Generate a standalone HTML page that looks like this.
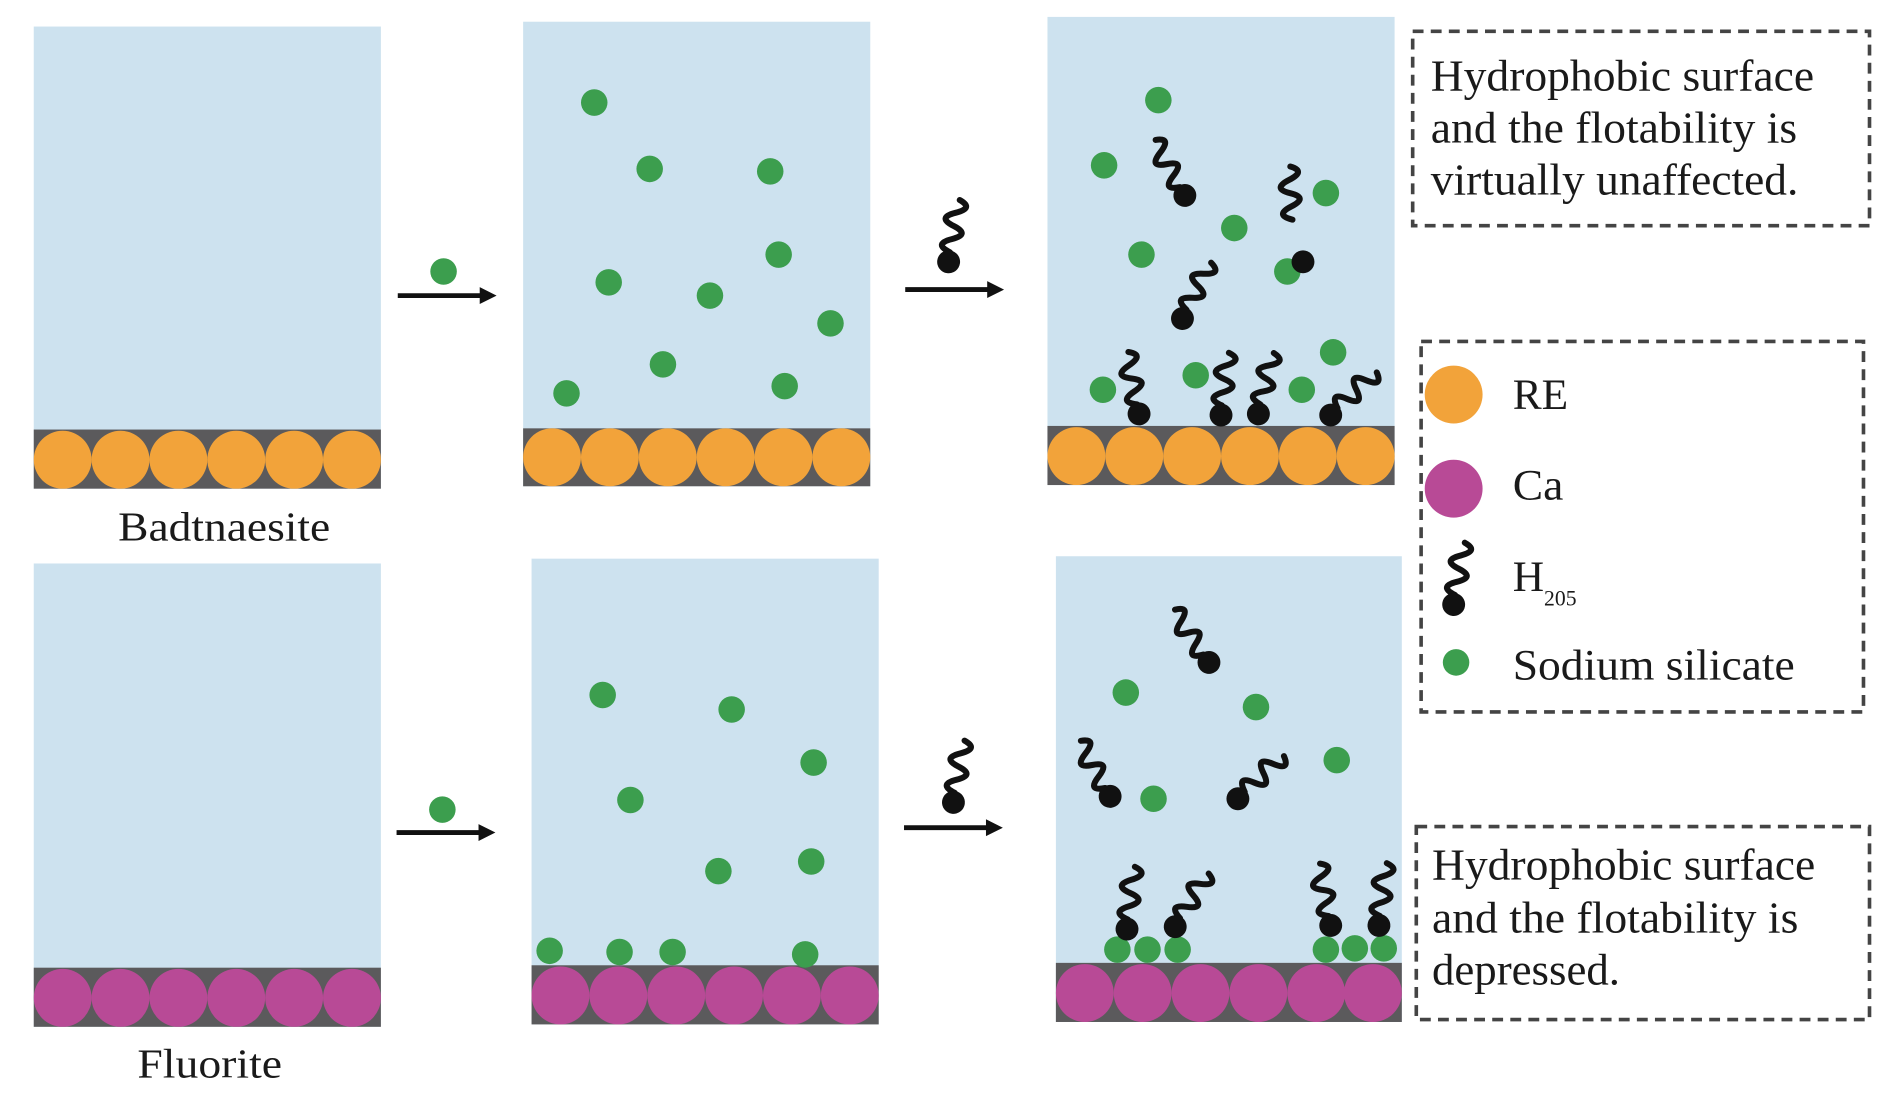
<!DOCTYPE html>
<html><head><meta charset="utf-8"><style>
html,body{margin:0;padding:0;background:#fff;}
svg{display:block;}
text{font-family:"Liberation Serif",serif;fill:#1a1a1a;}
</style></head><body>
<svg width="1890" height="1098" viewBox="0 0 1568 910" preserveAspectRatio="none" xmlns="http://www.w3.org/2000/svg">
<defs>
<g id="sq"><path d="M0,-8 Q-15,-13 0,-19 T0,-30 T0,-41 T2,-52" fill="none" stroke="#111" stroke-width="5" stroke-linecap="round"/><circle r="9.5" fill="#111"/></g>
<g id="tail"><path d="M0,-8 Q-15,-13 0,-19 T0,-30 T0,-41 T2,-52" fill="none" stroke="#111" stroke-width="5" stroke-linecap="round"/></g>
<circle id="g" r="11" fill="#3c9e4e"/>
<circle id="o" r="24" fill="#f2a33a"/>
<circle id="m" r="24" fill="#b84a96"/>
</defs>
<rect width="1568" height="910" fill="#fff"/>

<rect x="28" y="22" width="288" height="383" fill="#cde2ef"/>
<rect x="434" y="18" width="288" height="385" fill="#cde2ef"/>
<rect x="869" y="14" width="288" height="388" fill="#cde2ef"/>
<rect x="28" y="467" width="288" height="384" fill="#cde2ef"/>
<rect x="441" y="463" width="288" height="386" fill="#cde2ef"/>
<rect x="876" y="461" width="287" height="386" fill="#cde2ef"/>

<rect x="28" y="356" width="288" height="49" fill="#5b5a5c"/>
<rect x="434" y="355" width="288" height="48" fill="#5b5a5c"/>
<rect x="869" y="353" width="288" height="49" fill="#5b5a5c"/>
<rect x="28" y="802" width="288" height="49" fill="#5b5a5c"/>
<rect x="441" y="800" width="288" height="49" fill="#5b5a5c"/>
<rect x="876" y="798" width="287" height="49" fill="#5b5a5c"/>

<g>
<use href="#o" x="52" y="381"/><use href="#o" x="100" y="381"/><use href="#o" x="148" y="381"/><use href="#o" x="196" y="381"/><use href="#o" x="244" y="381"/><use href="#o" x="292" y="381"/>
<use href="#o" x="458" y="379"/><use href="#o" x="506" y="379"/><use href="#o" x="554" y="379"/><use href="#o" x="602" y="379"/><use href="#o" x="650" y="379"/><use href="#o" x="698" y="379"/>
<use href="#o" x="893" y="378"/><use href="#o" x="941" y="378"/><use href="#o" x="989" y="378"/><use href="#o" x="1037" y="378"/><use href="#o" x="1085" y="378"/><use href="#o" x="1133" y="378"/>
<use href="#m" x="52" y="827"/><use href="#m" x="100" y="827"/><use href="#m" x="148" y="827"/><use href="#m" x="196" y="827"/><use href="#m" x="244" y="827"/><use href="#m" x="292" y="827"/>
<use href="#m" x="465" y="825"/><use href="#m" x="513" y="825"/><use href="#m" x="561" y="825"/><use href="#m" x="609" y="825"/><use href="#m" x="657" y="825"/><use href="#m" x="705" y="825"/>
<use href="#m" x="900" y="823"/><use href="#m" x="948" y="823"/><use href="#m" x="996" y="823"/><use href="#m" x="1044" y="823"/><use href="#m" x="1092" y="823"/><use href="#m" x="1139" y="823"/>
</g>

<g>
<use href="#g" x="493" y="85"/><use href="#g" x="539" y="140"/><use href="#g" x="639" y="142"/><use href="#g" x="646" y="211"/><use href="#g" x="505" y="234"/><use href="#g" x="589" y="245"/><use href="#g" x="689" y="268"/><use href="#g" x="550" y="302"/><use href="#g" x="470" y="326"/><use href="#g" x="651" y="320"/>
</g>
<g>
<use href="#g" x="961" y="83"/><use href="#g" x="916" y="137"/><use href="#g" x="1100" y="160"/><use href="#g" x="1024" y="189"/><use href="#g" x="947" y="211"/><use href="#g" x="1068" y="225"/><use href="#g" x="1106" y="292"/><use href="#g" x="992" y="311"/><use href="#g" x="1080" y="323"/><use href="#g" x="915" y="323"/>
<use href="#sq" transform="translate(983,162) rotate(-30)"/>
<use href="#tail" transform="translate(1073,190) rotate(-5)"/>
<circle cx="1081" cy="217" r="9.5" fill="#111"/>
<use href="#sq" transform="translate(981,264) rotate(25)"/>
<use href="#sq" transform="translate(945,343) rotate(-12)"/>
<use href="#sq" transform="translate(1013,344) rotate(5)"/>
<use href="#sq" transform="translate(1044,343) rotate(12)"/>
<use href="#sq" transform="translate(1104,344) rotate(45)"/>
</g>
<g>
<use href="#g" x="500" y="576"/><use href="#g" x="607" y="588"/><use href="#g" x="675" y="632"/><use href="#g" x="523" y="663"/><use href="#g" x="673" y="714"/><use href="#g" x="596" y="722"/>
<use href="#g" x="456" y="788"/><use href="#g" x="514" y="789"/><use href="#g" x="558" y="789"/><use href="#g" x="668" y="791"/>
</g>
<g>
<use href="#g" x="934" y="574"/><use href="#g" x="1042" y="586"/><use href="#g" x="1109" y="630"/><use href="#g" x="957" y="662"/>
<use href="#g" x="927" y="787"/><use href="#g" x="952" y="787"/><use href="#g" x="977" y="787"/><use href="#g" x="1100" y="787"/><use href="#g" x="1124" y="786"/><use href="#g" x="1148" y="786"/>
<use href="#sq" transform="translate(1003,549) rotate(-35)"/>
<use href="#sq" transform="translate(921,660) rotate(-30)"/>
<use href="#sq" transform="translate(1027,662) rotate(45)"/>
<use href="#sq" transform="translate(935,770) rotate(5)"/>
<use href="#sq" transform="translate(975,768) rotate(30)"/>
<use href="#sq" transform="translate(1104,767) rotate(-12)"/>
<use href="#sq" transform="translate(1144,767) rotate(5)"/>
</g>

<g stroke="#111" stroke-width="4" fill="#111">
<line x1="330" y1="245" x2="402" y2="245"/><path d="M412,245 L398,238 L398,252 Z" stroke="none"/>
<line x1="751" y1="240" x2="823" y2="240"/><path d="M833,240 L819,233 L819,247 Z" stroke="none"/>
<line x1="329" y1="690" x2="401" y2="690"/><path d="M411,690 L397,683 L397,697 Z" stroke="none"/>
<line x1="750" y1="686" x2="822" y2="686"/><path d="M832,686 L818,679 L818,693 Z" stroke="none"/>
</g>
<use href="#g" x="368" y="225"/>
<use href="#g" x="367" y="671"/>
<use href="#sq" transform="translate(787,217) rotate(8)"/>
<use href="#sq" transform="translate(791,665) rotate(8)"/>

<text x="98" y="448" font-size="34" textLength="176" lengthAdjust="spacingAndGlyphs">Badtnaesite</text>
<text x="114" y="893" font-size="34" textLength="120" lengthAdjust="spacingAndGlyphs">Fluorite</text>

<g fill="none" stroke="#444" stroke-width="3" stroke-dasharray="9,6">
<rect x="1172" y="26" width="379" height="161"/>
<rect x="1179" y="283" width="367" height="307"/>
<rect x="1175" y="685" width="376" height="160"/>
</g>
<g font-size="37">
<text x="1187" y="75" textLength="318" lengthAdjust="spacingAndGlyphs">Hydrophobic surface</text>
<text x="1187" y="118" textLength="304" lengthAdjust="spacingAndGlyphs">and the flotability is</text>
<text x="1187" y="161" textLength="305" lengthAdjust="spacingAndGlyphs">virtually unaffected.</text>
<text x="1188" y="729" textLength="318" lengthAdjust="spacingAndGlyphs">Hydrophobic surface</text>
<text x="1188" y="773" textLength="304" lengthAdjust="spacingAndGlyphs">and the flotability is</text>
<text x="1188" y="816" textLength="156" lengthAdjust="spacingAndGlyphs">depressed.</text>
</g>
<circle cx="1206" cy="327" r="24" fill="#f2a33a"/>
<circle cx="1206" cy="405" r="24" fill="#b84a96"/>
<use href="#sq" transform="translate(1206,501) rotate(8)"/>
<circle cx="1208" cy="549" r="11" fill="#3c9e4e"/>
<g font-size="36">
<text x="1255" y="339" textLength="46" lengthAdjust="spacingAndGlyphs">RE</text>
<text x="1255" y="414" textLength="42" lengthAdjust="spacingAndGlyphs">Ca</text>
<text x="1255" y="490">H<tspan font-size="18" dy="12">205</tspan></text>
<text x="1255" y="563" textLength="234" lengthAdjust="spacingAndGlyphs">Sodium silicate</text>
</g>
</svg>
</body></html>
